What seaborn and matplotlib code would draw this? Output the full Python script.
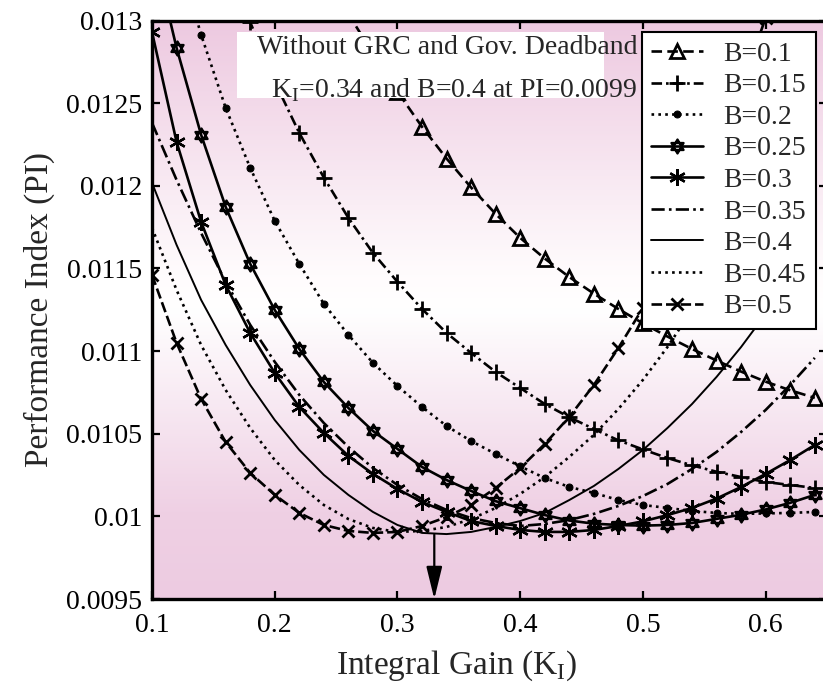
import matplotlib
matplotlib.use("Agg")
import numpy as np
import matplotlib.pyplot as plt
import seaborn as sns
from matplotlib.path import Path
from matplotlib.patches import Rectangle
from matplotlib.colors import LinearSegmentedColormap

# integral gain grid (K_I)
ki = [0.10, 0.12, 0.14, 0.16, 0.18, 0.20, 0.22, 0.24, 0.26, 0.28,
      0.30, 0.32, 0.34, 0.36, 0.38, 0.40, 0.42, 0.44, 0.46, 0.48,
      0.50, 0.52, 0.54, 0.56, 0.58, 0.60, 0.62, 0.64]

# performance index for each B
pi_b010 = [0.01360, 0.01331, 0.01304, 0.01280, 0.012570, 0.012357, 0.012165, 0.011990,
           0.011830, 0.011685, 0.011560, 0.011448, 0.011348, 0.011255, 0.011168, 0.011088,
           0.011013, 0.010943, 0.010876, 0.010815, 0.010763, 0.010717]          # from 0.22
pi_b015 = [0.01386, 0.01340, 0.01299, 0.01263, 0.01232, 0.012050, 0.011806, 0.011594,
           0.011419, 0.011255, 0.011110, 0.010989, 0.010874, 0.010777, 0.010680, 0.010600,
           0.010529, 0.010460, 0.010405, 0.010353, 0.010309, 0.010270, 0.010238, 0.010208,
           0.010190, 0.010172]                                                  # from 0.14
pi_b020 = [0.01400, 0.01343, 0.012914, 0.012472, 0.012109, 0.011788, 0.011528, 0.011286,
           0.011098, 0.010929, 0.010789, 0.010662, 0.010547, 0.010456, 0.010378, 0.010303,
           0.010232, 0.010178, 0.010142, 0.010099, 0.010069, 0.010051, 0.010033, 0.010021,
           0.010015, 0.010018, 0.010021, 0.010027]
pi_b025 = [0.01346, 0.012835, 0.012309, 0.011873, 0.011528, 0.011249, 0.011013, 0.010813,
           0.010656, 0.010517, 0.010408, 0.010299, 0.010220, 0.010154, 0.010092, 0.010050,
           0.010008, 0.009975, 0.009956, 0.009948, 0.009944, 0.009948, 0.009960, 0.009985,
           0.010010, 0.010042, 0.010082, 0.010130]
pi_b030 = [0.01293, 0.012266, 0.011782, 0.011401, 0.011110, 0.010868, 0.010662, 0.010505,
           0.010366, 0.010257, 0.010166, 0.010087, 0.010027, 0.009972, 0.009942, 0.009918,
           0.009906, 0.009906, 0.009918, 0.009942, 0.009970, 0.010008, 0.010051, 0.010108,
           0.010178, 0.010257, 0.010341, 0.010432]
pi_b035 = [0.012381, 0.012036, 0.011715, 0.011419, 0.011159, 0.010935, 0.010735, 0.010565,
           0.010420, 0.010293, 0.010190, 0.010105, 0.010039, 0.009990, 0.009960, 0.009942,
           0.009954, 0.009978, 0.010015, 0.010063, 0.010123, 0.010196, 0.010287, 0.010390,
           0.010511, 0.010644, 0.010795, 0.010959]
pi_b040 = [0.012018, 0.011643, 0.011310, 0.011037, 0.010795, 0.010583, 0.010402, 0.010251,
           0.010130, 0.010027, 0.009948, 0.009900, 0.009893, 0.009906, 0.009936, 0.009972,
           0.010021, 0.010099, 0.010184, 0.010287, 0.010402, 0.010535, 0.010680, 0.010844,
           0.011025, 0.011225, 0.011437, 0.011661]
pi_b045 = [0.011746, 0.011370, 0.011037, 0.010765, 0.010535, 0.010341, 0.010190, 0.010069,
           0.009984, 0.009930, 0.009906, 0.009912, 0.009936, 0.009984, 0.010051, 0.010136,
           0.010238, 0.010360, 0.010493, 0.010650, 0.010826, 0.011025, 0.011249, 0.011504,
           0.011794, 0.012121, 0.012484, 0.012884]
pi_b050 = [0.011461, 0.011050, 0.010711, 0.010450, 0.010263, 0.010130, 0.010021, 0.009948,
           0.009912, 0.009900, 0.009906, 0.009942, 0.009996, 0.010069, 0.010172, 0.010293,
           0.010438, 0.010602, 0.010795, 0.011019, 0.011261, 0.011540, 0.011855, 0.012206,
           0.012593, 0.013017, 0.013477, 0.013973]

b_labels = ["B=0.1", "B=0.15", "B=0.2", "B=0.25", "B=0.3",
            "B=0.35", "B=0.4", "B=0.45", "B=0.5"]
xticks = [0.1, 0.2, 0.3, 0.4, 0.5, 0.6]
yticks = [0.0095, 0.010, 0.0105, 0.011, 0.0115, 0.012, 0.0125, 0.013]
ytick_labels = ["0.0095", "0.01", "0.0105", "0.011", "0.0115", "0.012", "0.0125", "0.013"]

sns.set_style("ticks")
plt.rcParams["font.family"] = ["Liberation Serif", "DejaVu Serif"]
plt.rcParams["mathtext.fontset"] = "custom"
plt.rcParams["mathtext.rm"] = "Liberation Serif"

# star of david marker (two overlapping triangles)
c30, s30 = 0.866, 0.5
hexagram = Path(
    [(0, 1), (-c30, -s30), (c30, -s30), (0, 1),
     (0, -1), (c30, s30), (-c30, s30), (0, -1)],
    [Path.MOVETO, Path.LINETO, Path.LINETO, Path.CLOSEPOLY,
     Path.MOVETO, Path.LINETO, Path.LINETO, Path.CLOSEPOLY])

fig = plt.figure(figsize=(8.23, 6.85), dpi=100)
ax = fig.add_axes([0.1847, 0.1255, 0.8202, 0.8445])

# pink-white-pink background
bg = LinearSegmentedColormap.from_list(
    "bg", [(0.0, "#edcbe1"), (0.15, "#efd0e4"), (0.5, "#ffffff"),
           (0.56, "#fffcfd"), (1.0, "#edc9e0")])
ax.imshow(np.linspace(0, 1, 256).reshape(-1, 1), cmap=bg, origin="lower",
          extent=[0.1, 0.65, 0.0095, 0.013], aspect="auto", zorder=0)

series = [
    (ki[6:], pi_b010, dict(ls=(0, (4, 2)), marker="^", ms=10, mfc="none", mew=2)),
    (ki[2:], pi_b015, dict(ls=(0, (4, 1.5, 1, 1.5)), marker="+", ms=11, mew=2)),
    (ki, pi_b020, dict(ls=(0, (1, 1.6)), marker="o", ms=5, mfc="black")),
    (ki, pi_b025, dict(ls="-", marker=hexagram, ms=10, mfc="none", mew=1.7)),
    (ki, pi_b030, dict(ls="-", marker=(6, 2, 0), ms=12, mew=1.7)),
    (ki, pi_b035, dict(ls=(0, (5, 1.6, 1, 1.6)), marker="")),
    (ki, pi_b040, dict(ls="-", lw=1.4, marker="")),
    (ki, pi_b045, dict(ls=(0, (1, 1.6)), marker="")),
    (ki, pi_b050, dict(ls=(0, (4, 1.5)), marker="x", ms=8, mew=2)),
]
handles = []
for x, y, style in series:
    sns.lineplot(x=x, y=y, ax=ax, color="black", sort=False, zorder=3)
    line = ax.lines[-1]
    line.set_linewidth(style.get("lw", 1.9))
    line.set_linestyle(style["ls"])
    line.set_marker(style["marker"])
    line.set_markeredgecolor("black")
    if "ms" in style:
        line.set_markersize(style["ms"])
    if "mew" in style:
        line.set_markeredgewidth(style["mew"])
    line.set_markerfacecolor(style.get("mfc", "black"))
    handles.append(line)

ax.set_xlim(0.1, 0.65)
ax.set_ylim(0.0095, 0.013)
ax.set_xticks(xticks)
ax.set_xticklabels([f"{t:g}" for t in xticks])
ax.set_yticks(yticks)
ax.set_yticklabels(ytick_labels)
ax.tick_params(direction="in", length=6, width=1.6, top=True, right=True,
               labelsize=20, colors="black")
ax.tick_params(axis="x", pad=10)
ax.tick_params(axis="y", pad=7)
for sp in ax.spines.values():
    sp.set_linewidth(2.4)
    sp.set_color("black")
    sp.set_zorder(7)

ax.set_xlabel(r"Integral Gain (K$_\mathregular{I}$)", fontsize=24)
ax.set_ylabel("Performance Index (PI)", fontsize=24, labelpad=8)
ax.xaxis.set_label_coords(0.452, -0.085)

# annotation box (sits on top of the curves)
ax.add_patch(Rectangle((0.1693, 0.012533), 0.2991, 0.000399,
                       facecolor="white", edgecolor="none", zorder=4))
ax.text(0.4953, 0.012835, "Without GRC and Gov. Deadband", ha="right",
        va="center", fontsize=20, zorder=5)
ax.text(0.4953, 0.012581, r"K$_\mathregular{I}$=0.34 and B=0.4 at PI=0.0099",
        ha="right", va="center", fontsize=20, zorder=5)

ax.annotate("", xy=(0.33, 0.0095), xytext=(0.33, 0.00989),
            arrowprops=dict(arrowstyle="-|>,head_length=0.9,head_width=0.22",
                            mutation_scale=22, color="black", lw=1.6,
                            shrinkA=0, shrinkB=0), zorder=5)

leg = ax.legend(handles=handles, labels=b_labels, loc="upper right", fontsize=20,
                frameon=True, fancybox=False, framealpha=1, edgecolor="black",
                borderaxespad=0.4, handlelength=1.85, handletextpad=0.75,
                labelspacing=0.22, borderpad=0.35)
leg.get_frame().set_linewidth(1.5)
leg.set_zorder(6)

fig.savefig("out.png", dpi=100)
